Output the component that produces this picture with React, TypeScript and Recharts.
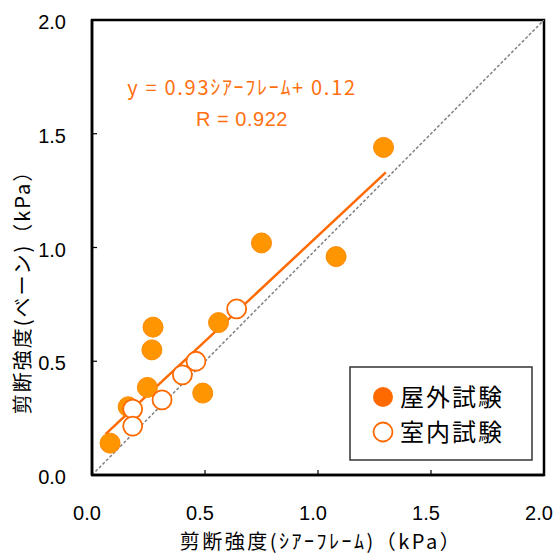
import React from "react";
import {
  ComposedChart,
  Scatter,
  Line,
  XAxis,
  YAxis,
  ReferenceArea,
} from "recharts";

// 屋外試験 (filled) : [シアーフレーム, ベーン]
const outdoorX = [0.08, 0.16, 0.245, 0.265, 0.27, 0.49, 0.56, 0.75, 1.08, 1.29];
const outdoorY = [0.14, 0.3, 0.385, 0.55, 0.65, 0.36, 0.67, 1.02, 0.96, 1.44];

// 室内試験 (open)
const indoorX = [0.18, 0.18, 0.31, 0.4, 0.46, 0.64];
const indoorY = [0.29, 0.215, 0.33, 0.44, 0.5, 0.73];

// regression line end points and 1:1 line
const fitX = [0.06, 1.3];
const fitY = [0.18, 1.33];
const diagX = [0, 2];
const diagY = [0, 2];

const ticks = [0, 0.5, 1, 1.5, 2];

const eqText = "y = 0.93ｼｱｰﾌﾚｰﾑ+ 0.12";
const rText = "R = 0.922";
const xTitle = "剪断強度(ｼｱｰﾌﾚｰﾑ)（kPa）";
const yTitle = "剪断強度(ベーン)（kPa）";
const legendNames = ["屋外試験", "室内試験"];

const zip = (xs: number[], ys: number[]) => xs.map((x, i) => ({ x, y: ys[i] }));

const outdoor = zip(outdoorX, outdoorY);
const indoor = zip(indoorX, indoorY);
const fit = zip(fitX, fitY);
const diag = zip(diagX, diagY);

const ORANGE = "#FF9500";
const ORANGE_DARK = "#FF6A00";
const FONT = "'Liberation Sans', Arial, sans-serif";
const JP = "'Noto Sans CJK JP', sans-serif";

const FilledDot = (p: any) => (
  <circle cx={p.cx} cy={p.cy} r={10} fill={ORANGE} stroke="#FF8A00" strokeWidth={1} />
);
const OpenDot = (p: any) => (
  <circle cx={p.cx} cy={p.cy} r={9.5} fill="#fff" stroke={ORANGE_DARK} strokeWidth={1.8} />
);

const XTick = (p: any) => (
  <text x={p.x - 5} y={520} textAnchor="middle" fontFamily={FONT} fontSize={20} fill="#000">
    {Number(p.payload.value).toFixed(1)}
  </text>
);
const YTick = (p: any) => (
  <text x={66} y={p.y + 9} textAnchor="end" fontFamily={FONT} fontSize={20} fill="#000">
    {Number(p.payload.value).toFixed(1)}
  </text>
);

export default function App() {
  return (
    <div style={{ position: "absolute", left: 0, top: 0, width: 557, height: 556, background: "#fff" }}>
      <ComposedChart
        width={557}
        height={556}
        margin={{ top: 20, right: 13, left: 0, bottom: 0 }}
      >
        <XAxis
          type="number"
          dataKey="x"
          domain={[0, 2]}
          ticks={ticks}
          height={81}
          tickSize={-5}
          tickMargin={0}
          tick={XTick}
          axisLine={{ stroke: "#000", strokeWidth: 2.5 }}
          tickLine={{ stroke: "#000", strokeWidth: 1.2 }}
          allowDataOverflow
        />
        <YAxis
          type="number"
          dataKey="y"
          domain={[0, 2]}
          ticks={ticks}
          width={92}
          tickSize={-5}
          tickMargin={0}
          tick={YTick}
          axisLine={{ stroke: "#000", strokeWidth: 2.5 }}
          tickLine={{ stroke: "#000", strokeWidth: 1.2 }}
          allowDataOverflow
        />
        <ReferenceArea
          x1={0}
          x2={2}
          y1={0}
          y2={2}
          fill="none"
          fillOpacity={0}
          stroke="#000"
          strokeWidth={2.5}
          ifOverflow="visible"
        />
        <Scatter data={outdoor} dataKey="y" shape={FilledDot} isAnimationActive={false} />
        <Scatter data={indoor} dataKey="y" shape={OpenDot} isAnimationActive={false} />
        <Line
          data={diag}
          dataKey="y"
          stroke="#808080"
          strokeWidth={1.5}
          strokeDasharray="3 2"
          dot={false}
          activeDot={false}
          isAnimationActive={false}
        />
        <Line
          data={fit}
          dataKey="y"
          stroke={ORANGE_DARK}
          strokeWidth={2.5}
          dot={false}
          activeDot={false}
          isAnimationActive={false}
        />
      </ComposedChart>

      <svg
        width={557}
        height={556}
        style={{ position: "absolute", left: 0, top: 0, pointerEvents: "none" }}
      >
        <text x={242} y={95} textAnchor="middle" fontFamily={JP} fontSize={20} letterSpacing={1.7} fill="#FF7010">
          {eqText}
        </text>
        <text x={242} y={126} textAnchor="middle" fontFamily={FONT} fontSize={20} letterSpacing={0.5} fill="#FF7010">
          {rText}
        </text>
        <text x={321} y={549} textAnchor="middle" fontFamily={JP} fontSize={20} letterSpacing={2.5} fill="#000">
          {xTitle}
        </text>
        <text
          x={0}
          y={0}
          transform="translate(30, 287) rotate(-90)"
          textAnchor="middle"
          fontFamily={JP}
          fontSize={20}
          letterSpacing={2}
          fill="#000"
        >
          {yTitle}
        </text>

        <rect x={350} y={367} width={182} height={93} fill="#fff" stroke="#333" strokeWidth={1.5} />
        <circle cx={383} cy={397} r={10} fill={ORANGE_DARK} />
        <circle cx={383} cy={432} r={9.5} fill="#fff" stroke={ORANGE_DARK} strokeWidth={1.8} />
        <text x={400} y={406} fontFamily={JP} fontSize={24} letterSpacing={2} fill="#000">
          {legendNames[0]}
        </text>
        <text x={400} y={441} fontFamily={JP} fontSize={24} letterSpacing={2} fill="#000">
          {legendNames[1]}
        </text>
      </svg>
    </div>
  );
}
